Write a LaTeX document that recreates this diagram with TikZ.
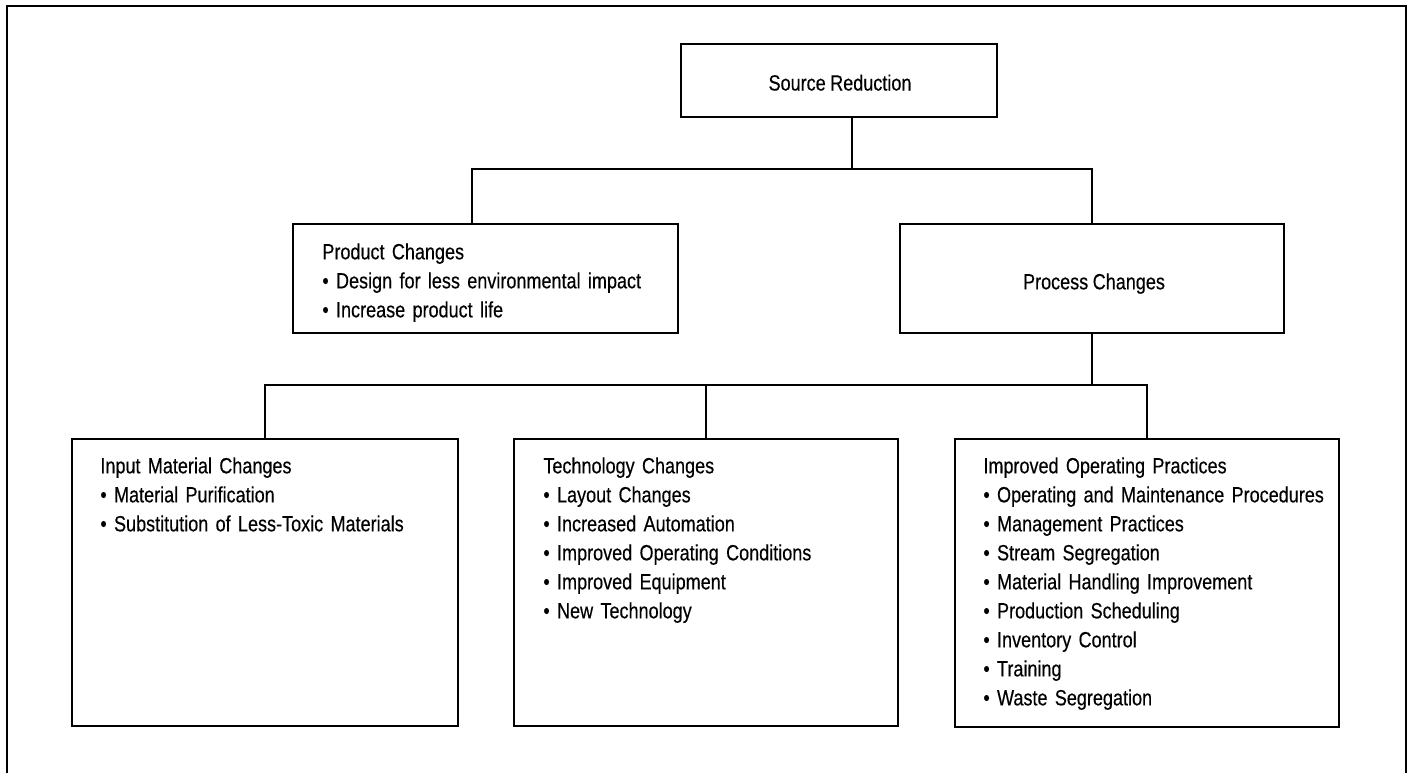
\documentclass[tikz,border=0pt]{standalone}
\usepackage{fontspec}
\setmainfont{Liberation Sans}[FakeStretch=0.82, WordSpace=0.9,
  UprightFeatures={FakeBold=0.35}]
\usetikzlibrary{fit}
\begin{document}
\begin{tikzpicture}[x=0.5pt, y=-0.5pt,
  box/.style={draw, line width=1pt, inner sep=0pt},
  link/.style={draw, line width=1pt},
  frame/.style={draw, line width=1pt},
  title/.style={inner sep=0pt, font=\fontsize{11}{14.5}\selectfont},
  txt/.style={inner sep=0pt, text width=190pt, align=left,
              font=\fontsize{11}{14.5}\selectfont}]
\useasboundingbox (0,0) rectangle (1411,773);

% outer frame (open at the bottom)
\draw[frame] (7,773) -- (7,6) -- (1406,6) -- (1406,773);

% boxes
\node[box, fit={(681,44) (997,117)}]   (src)   {};
\node[box, fit={(293,224) (678,333)}]  (prod)  {};
\node[box, fit={(900,224) (1284,333)}] (proc)  {};
\node[box, fit={(72,439) (458,726)}]   (input) {};
\node[box, fit={(514,439) (898,726)}]  (tech)  {};
\node[box, fit={(955,439) (1339,727)}] (impr)  {};

% texts
\node[title, anchor=base] (srct)  at (840,90.5)   {Source Reduction};
\node[title, anchor=base] (proct) at (1094,289.3) {Process Changes};

\node[txt, anchor=base west] (prodt) at (322,259.3)
  {Product Changes\\
   \textbullet\ Design for less environmental impact\\
   \textbullet\ Increase product life};

\node[txt, anchor=base west] (inputt) at (100,473.3)
  {Input Material Changes\\
   \textbullet\ Material Purification\\
   \textbullet\ Substitution of Less-Toxic Materials};

\node[txt, anchor=base west] (techt) at (543,473.3)
  {Technology Changes\\
   \textbullet\ Layout Changes\\
   \textbullet\ Increased Automation\\
   \textbullet\ Improved Operating Conditions\\
   \textbullet\ Improved Equipment\\
   \textbullet\ New Technology};

\node[txt, anchor=base west] (imprt) at (983,473.3)
  {Improved Operating Practices\\
   \textbullet\ Operating and Maintenance Procedures\\
   \textbullet\ Management Practices\\
   \textbullet\ Stream Segregation\\
   \textbullet\ Material Handling Improvement\\
   \textbullet\ Production Scheduling\\
   \textbullet\ Inventory Control\\
   \textbullet\ Training\\
   \textbullet\ Waste Segregation};

% connectors
\coordinate (t1) at (852,169);
\coordinate (t2) at (1092,385);
\draw[link] ([xshift=6.5pt]src.south) -- (t1);
\draw[link] ([xshift=-6.75pt]prod.north) |- (t1) -| (proc.north);
\draw[link] (proc.south) -- (t2);
\draw[link] (input.north) |- (t2) -| (impr.north);
\draw[link] (tech.north) -- (tech.north |- t2);
\end{tikzpicture}
\end{document}
